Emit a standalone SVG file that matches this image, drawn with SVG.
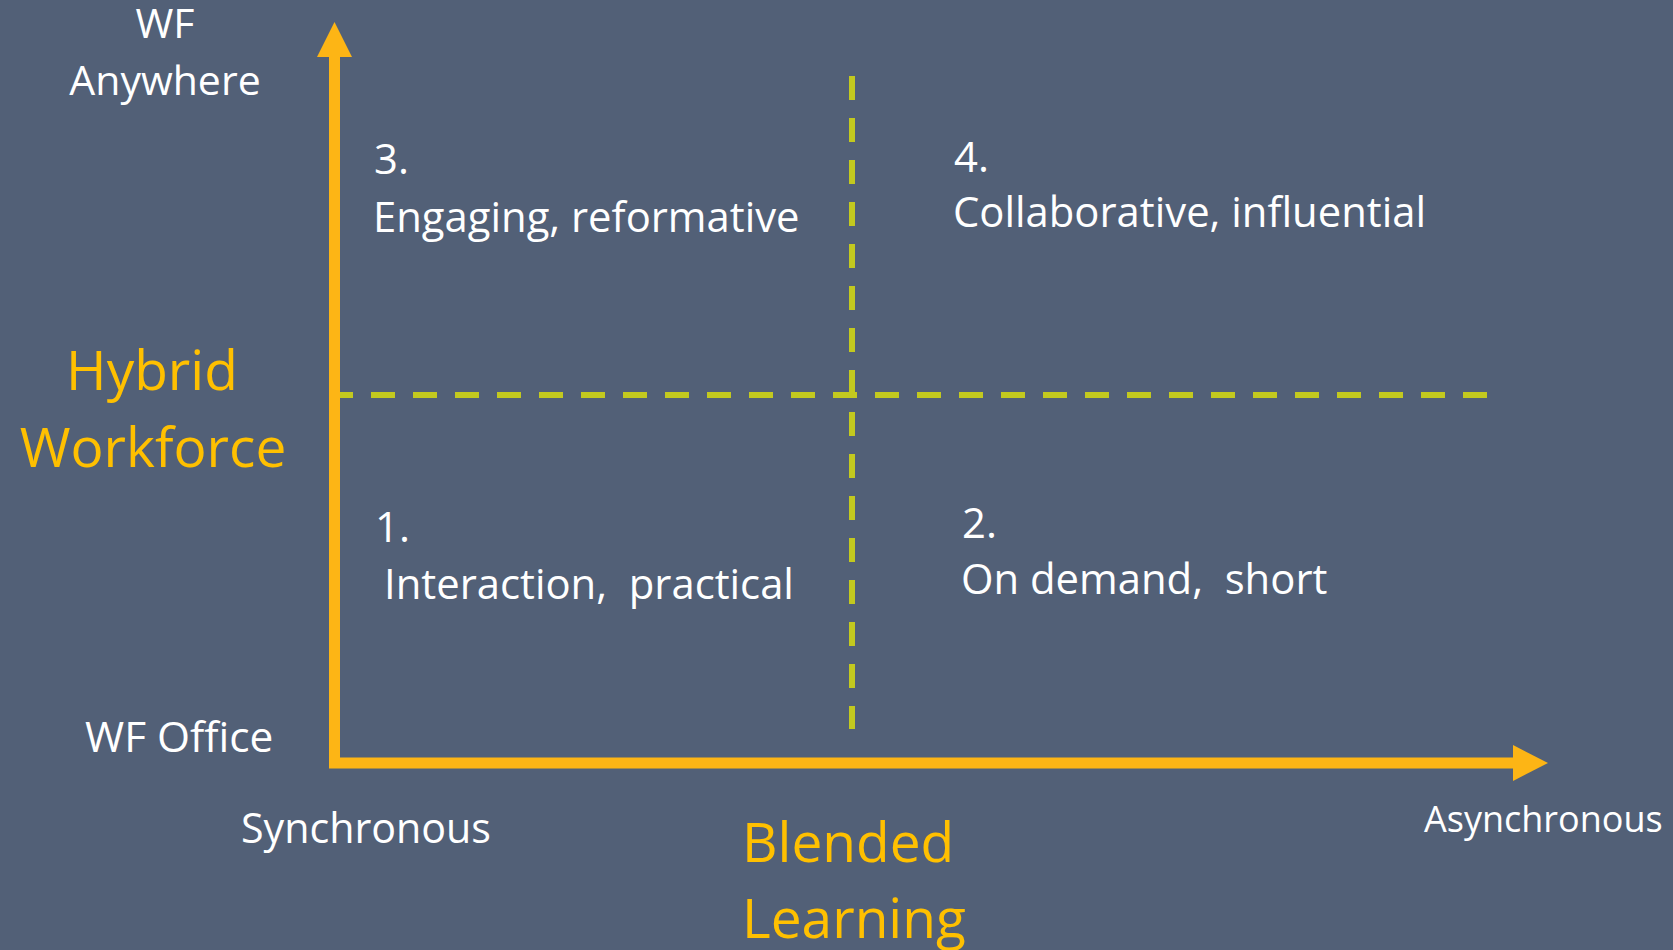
<svg xmlns="http://www.w3.org/2000/svg" width="1673" height="950" viewBox="0 0 1673 950">
<style>
.t{font-family:"Open Sans","Liberation Sans",sans-serif;fill:#ffffff;}
.y{font-family:"Open Sans","Liberation Sans",sans-serif;fill:#ffc000;}
.axis{fill:none;stroke:#fdb515;stroke-width:11;stroke-linejoin:miter;}
.head{fill:#fdb515;}
.dash{fill:none;stroke:#c3c91f;stroke-width:6;stroke-dasharray:24 18;}
</style>
<rect x="0" y="0" width="1673" height="950" fill="#526077"/>
<g id="connectors">
<path class="dash" d="M852,76 V729"/>
<path class="dash" d="M329,395 H1490"/>
<path class="axis" d="M334.5,56 V763 H1514"/>
<polygon class="head" points="334.5,22 317,57 352,57"/>
<polygon class="head" points="1548,763 1513,745 1513,781"/>
</g>
<g id="wf-anywhere"><text class="t" font-size="41" text-anchor="middle" x="165" y="38">WF</text><text class="t" font-size="41" text-anchor="middle" x="165" y="95">Anywhere</text></g>
<g id="hybrid-workforce"><text class="y" font-size="55" text-anchor="middle" x="152" y="390">Hybrid</text><text class="y" font-size="55" text-anchor="middle" x="153" y="467">Workforce</text></g>
<g id="wf-office"><text class="t" font-size="42.4" x="85" y="752">WF Office</text></g>
<g id="synchronous"><text class="t" font-size="41.2" x="241" y="843">Synchronous</text></g>
<g id="asynchronous"><text class="t" font-size="36" x="1424" y="832">Asynchronous</text></g>
<g id="blended-learning"><text class="y" font-size="55" x="742" y="862">Blended</text><text class="y" font-size="55" x="742" y="938">Learning</text></g>
<g id="q3"><text class="t" font-size="41.8" x="374" y="174">3.</text><text class="t" font-size="41.8" x="373" y="232">Engaging, reformative</text></g>
<g id="q4"><text class="t" font-size="41.8" x="954" y="172">4.</text><text class="t" font-size="41.8" x="953" y="227">Collaborative, influential</text></g>
<g id="q1"><text class="t" font-size="41.8" x="375" y="542">1.</text><text class="t" font-size="41.8" x="384" y="599" xml:space="preserve">Interaction,  practical</text></g>
<g id="q2"><text class="t" font-size="41.8" x="962" y="538">2.</text><text class="t" font-size="41.8" x="961" y="594" xml:space="preserve">On demand,  short</text></g>
</svg>
